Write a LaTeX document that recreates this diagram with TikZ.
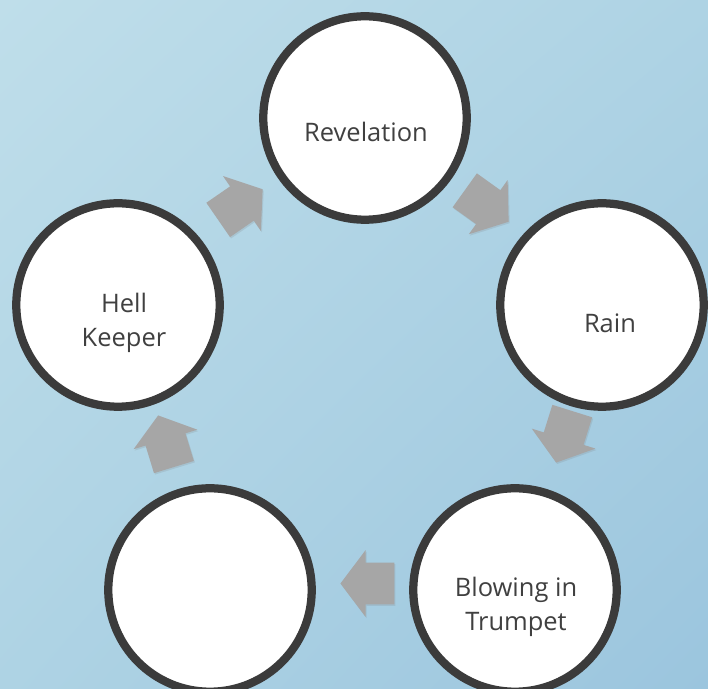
\documentclass[tikz,border=0pt]{standalone}
\usepackage{fontspec}
\setmainfont{Open Sans}
\usetikzlibrary{shapes.arrows,shadows,shadings,calc}
\definecolor{bgtl}{RGB}{191,222,234}
\definecolor{bgmid}{RGB}{174,211,228}
\definecolor{bgbr}{RGB}{155,197,222}
\definecolor{ringgray}{RGB}{59,59,59}
\definecolor{arrgray}{RGB}{166,166,166}
\definecolor{txtgray}{RGB}{64,64,64}

\begin{document}
\begin{tikzpicture}[
  x=0.02cm, y=-0.02cm,
  % Stage disc: white, heavy dark ring
  stage/.style    = {circle, draw=ringgray, fill=white, line width=4.7pt,
                     minimum size=4.07cm, inner sep=0pt,
                     drop shadow={opacity=0.2, shadow xshift=0.6pt, shadow yshift=-0.8pt}},
  % Stage caption, sits a little below the disc centre
  stagetxt/.style = {align=center, inner sep=0pt, text=txtgray,
                     font=\fontsize{14.5}{19.5}\selectfont},
  % Block arrow between two stages
  blk/.style      = {single arrow, fill=arrgray, draw=none, anchor=tip,
                     single arrow head extend=0.25cm, single arrow tip angle=106,
                     single arrow head indent=0pt, inner xsep=0pt, inner ysep=0.41cm,
                     text height=0pt, text depth=0pt,
                     minimum height=1.08cm, minimum width=0pt,
                     drop shadow={opacity=0.2, shadow xshift=0.6pt, shadow yshift=-0.8pt}}
]

% Canvas (pixel grid of the reference, y pointing down)
\useasboundingbox (0,0) rectangle (708,689);
\clip (0,0) rectangle (708,689);
\shade[upper left=bgtl, upper right=bgmid, lower left=bgmid, lower right=bgbr]
  (0,0) rectangle (708,689);

% Stages, clockwise from the top
\node[stage] (REV)   at (365,118) {};
\node[stage] (RAIN)  at (602,305) {};
\node[stage] (BLOW)  at (515,590) {};
\node[stage] (EMPTY) at (210,590) {};
\node[stage] (HELL)  at (118,305) {};

% Captions
\node[stagetxt] (REVt)  at ($(REV)+(1,14)$)  {Revelation};
\node[stagetxt] (RAINt) at ($(RAIN)+(8,18)$) {Rain};
\node[stagetxt] (BLOWt) at ($(BLOW)+(1,17)$) {Blowing in\\Trumpet};
\node[stagetxt] (HELLt) at ($(HELL)+(6,18)$) {Hell\\Keeper};

% Arrows round the cycle (placed by their tips)
\node[blk, rotate=34.6]   (A1) at (263,189)   {};
\node[blk, rotate=-35.6]  (A2) at (509,222)   {};
\node[blk, rotate=-107.4] (A3) at (556,463)   {};
\node[blk, rotate=180]    (A4) at (340,583.5) {};
\node[blk, rotate=107]    (A5) at (158,415)   {};

\end{tikzpicture}
\end{document}
